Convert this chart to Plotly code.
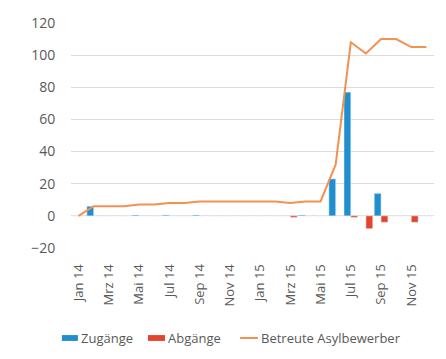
import plotly.graph_objects as go

months = ["Jan 14","Feb 14","Mrz 14","Apr 14","Mai 14","Jun 14","Jul 14","Aug 14","Sep 14","Okt 14","Nov 14","Dez 14",
          "Jan 15","Feb 15","Mrz 15","Apr 15","Mai 15","Jun 15","Jul 15","Aug 15","Sep 15","Okt 15","Nov 15","Dez 15"]
tick_labels = months[::2]
zugaenge = [0, 6, 0, 0, 0.5, 0, 0.5, 0, 0.5, 0, 0, 0, 0, 0, 0, 0.5, 0, 23, 77, 0, 14, 0, 0, 0]
abgaenge = [0, 0, 0, 0, 0, 0, 0, 0, 0, 0, 0, 0, 0, 0, -1, 0, 0, 0, -1, -8, -4, 0, -4, 0]
betreute = [0, 6, 6, 6, 7, 7, 8, 8, 9, 9, 9, 9, 9, 9, 8, 9, 9, 32, 108, 101, 110, 110, 105, 105]

BLUE, RED, ORANGE, GREY = "#1f8fd0", "#e4442e", "#f29150", "#595959"

fig = go.Figure()
fig.add_trace(go.Bar(x=months, y=zugaenge, name="Zugänge", marker_color=BLUE))
fig.add_trace(go.Bar(x=months, y=abgaenge, name="Abgänge", marker_color=RED))
fig.add_trace(go.Scatter(x=months, y=betreute, name="Betreute Asylbewerber", mode="lines",
                         line=dict(color=ORANGE, width=2)))

# manual legend (paper coordinates)
ly = -0.4
shapes = [
    dict(type="rect", xref="paper", yref="paper", x0=-0.025, x1=0.019, y0=ly - 0.013, y1=ly + 0.013,
         fillcolor=BLUE, line=dict(width=0)),
    dict(type="rect", xref="paper", yref="paper", x0=0.212, x1=0.259, y0=ly - 0.013, y1=ly + 0.013,
         fillcolor=RED, line=dict(width=0)),
    dict(type="line", xref="paper", yref="paper", x0=0.466, x1=0.515, y0=ly, y1=ly,
         line=dict(color=ORANGE, width=2)),
]
annotations = [
    dict(text=t, x=x, y=ly, xref="paper", yref="paper", xanchor="left", yanchor="middle",
         showarrow=False, font=dict(size=13, color=GREY))
    for t, x in [("Zugänge", 0.021), ("Abgänge", 0.261), ("Betreute Asylbewerber", 0.517)]
]

fig.update_layout(
    width=446, height=359,
    margin=dict(l=71, r=12, t=23, b=111),
    paper_bgcolor="white", plot_bgcolor="white",
    barmode="group", bargap=0.1, bargroupgap=0.0,
    font=dict(family="Open Sans", size=12, color=GREY),
    showlegend=False,
    shapes=shapes, annotations=annotations,
)
fig.update_xaxes(type="category", tickmode="array", tickvals=tick_labels, ticktext=tick_labels,
                 tickangle=-90, showgrid=False, showline=False, ticks="outside", ticklen=10,
                 tickcolor="rgba(0,0,0,0)", zeroline=False, automargin=False,
                 tickfont=dict(size=13, color=GREY))
fig.update_yaxes(range=[-20, 120], dtick=20, showgrid=True, gridcolor="#dcdcdc", gridwidth=1,
                 zeroline=True, zerolinecolor="#dcdcdc", zerolinewidth=1, showline=False,
                 ticks="outside", ticklen=12, tickcolor="rgba(0,0,0,0)", automargin=False,
                 tickfont=dict(size=14, color=GREY))

fig.write_html("out.html")
